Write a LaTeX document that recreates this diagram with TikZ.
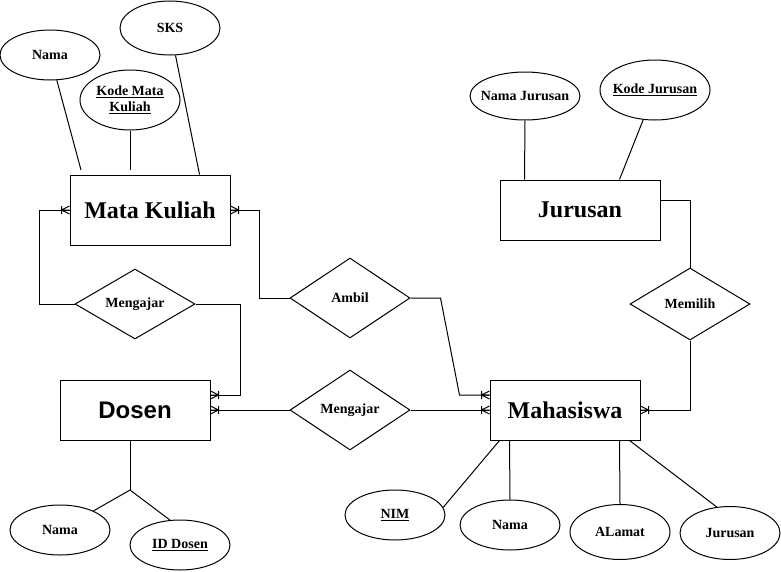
\documentclass[tikz,border=0pt]{standalone}
\usepackage{fontspec}
\setmainfont{Liberation Serif}
\newfontfamily\sansbf{Liberation Sans}
\usetikzlibrary{shapes.geometric,calc}
\newcommand\zw[1]{\makebox[0pt]{#1}}
\tikzset{
 attr/.style={ellipse,draw,inner sep=0pt,font=\fontsize{10.5}{12}\selectfont\bfseries},
 ent/.style={rectangle,draw,inner sep=0pt,font=\fontsize{18}{21}\selectfont\bfseries},
 rel/.style={diamond,draw,inner sep=0pt,aspect=1,minimum width=90pt,font=\fontsize{10.5}{12}\selectfont\bfseries},
 cf/.pic={\draw (-8,-4)--(-8,4) (-8,0)--(0,-4) (-8,0)--(0,4) (-8,0)--(0,0);}
}
\begin{document}
\begin{tikzpicture}[x=0.75pt,y=-0.75pt,line width=0.75pt]
\useasboundingbox (0,0) rectangle (781,571);
% entities
\node[ent,minimum width=120pt,minimum height=52.5pt] (mk) at (150,210) {Mata Kuliah};
\node[ent,minimum width=120pt,minimum height=45pt] (jur) at (580,210) {Jurusan};
\node[ent,minimum width=112.5pt,minimum height=45pt,font={\sansbf\fontsize{18}{21}\selectfont\bfseries}] (dos) at (135,410) {Dosen};
\node[ent,minimum width=112.5pt,minimum height=45pt] (mhs) at (565,410) {Mahasiswa};
% relations
\node[rel,minimum height=52.5pt] (meng1) at (135,304) {\zw{Mengajar}};
\node[rel,minimum height=60pt] (ambil) at (350,298) {\zw{Ambil}};
\node[rel,minimum height=60pt] (meng2) at (350,410) {\zw{Mengajar}};
\node[rel,minimum height=54pt] (pilih) at (690,304) {\zw{Memilih}};
% attributes
\node[attr,minimum width=75pt,minimum height=37.5pt] (namamk) at (50,55) {\zw{Nama}};
\node[attr,minimum width=75pt,minimum height=40.5pt] (sks) at (170,28) {\zw{SKS}};
\node[attr,minimum width=75pt,minimum height=45pt] (kodemk) at (130,100) {\zw{\begin{tabular}{@{}c@{}}\underline{Kode Mata}\\\underline{Kuliah}\end{tabular}}};
\node[attr,minimum width=82.5pt,minimum height=36pt] (namajur) at (525,96) {\zw{Nama Jurusan}};
\node[attr,minimum width=82.5pt,minimum height=45pt] (kodejur) at (655,90) {\zw{\underline{Kode Jurusan}}};
\node[attr,minimum width=75pt,minimum height=37.5pt] (namados) at (60,530) {\zw{Nama}};
\node[attr,minimum width=75pt,minimum height=37.5pt] (iddos) at (180,545) {\zw{\underline{ID Dosen}}};
\node[attr,minimum width=75pt,minimum height=37.5pt] (nim) at (395,515) {\zw{\underline{NIM}}};
\node[attr,minimum width=75pt,minimum height=37.5pt] (namamhs) at (510,525) {\zw{Nama}};
\node[attr,minimum width=75pt,minimum height=41.25pt] (alamat) at (620,532) {\zw{ALamat}};
\node[attr,minimum width=75pt,minimum height=39.75pt] (jurmhs) at (730,533) {\zw{Jurusan}};
% attribute lines
\coordinate (c1) at (81,170);
\coordinate (c2) at (130,170);
\draw (c1) -- (namamk);
\draw (c2) -- (kodemk.south);
\draw ($(mk.north west)+(130,0)$) -- (sks);
\draw ($(jur.north west)+(25,0)$) -- (namajur.south);
\draw ($(jur.north west)+(120,0)$) -- (kodejur);
\coordinate (dj) at (130,490);
\draw ($(dos.south)+(-5,0)$) -- (dj);
\draw (dj) -- (namados);
\draw (dj) -- (iddos.112);
\draw ($(mhs.south west)+(10,0)$) -- (nim.9.5);
\draw ($(mhs.south west)+(20,0)$) -- (namamhs.north);
\draw ($(mhs.south west)+(130,0)$) -- (alamat.north);
\draw ($(mhs.south west)+(140,0)$) -- (jurmhs.117.5);
% relationship connectors
\draw (meng1.west) -- ++(-35,0) |- (mk.west);
\pic at (mk.west) {cf};
\draw (meng1.east) -- ++(45,0) |- ($(dos.east)+(0,-15)$);
\pic[rotate=180] at ($(dos.east)+(0,-15)$) {cf};
\draw (ambil.west) -- ++(-30,0) |- (mk.east);
\pic[rotate=180] at (mk.east) {cf};
\draw (ambil.east) -- ++(30,0) -- ($(mhs.west)+(-30,-15)$) -- ($(mhs.west)+(0,-15)$);
\pic at ($(mhs.west)+(0,-15)$) {cf};
\draw (meng2.west) -- (dos.east);
\pic[rotate=180] at (dos.east) {cf};
\draw (meng2.east) -- (mhs.west);
\pic at (mhs.west) {cf};
\draw ($(jur.east)+(0,-10)$) -| (pilih.north);
\draw (pilih.south) |- (mhs.east);
\pic[rotate=180] at (mhs.east) {cf};
\end{tikzpicture}
\end{document}
